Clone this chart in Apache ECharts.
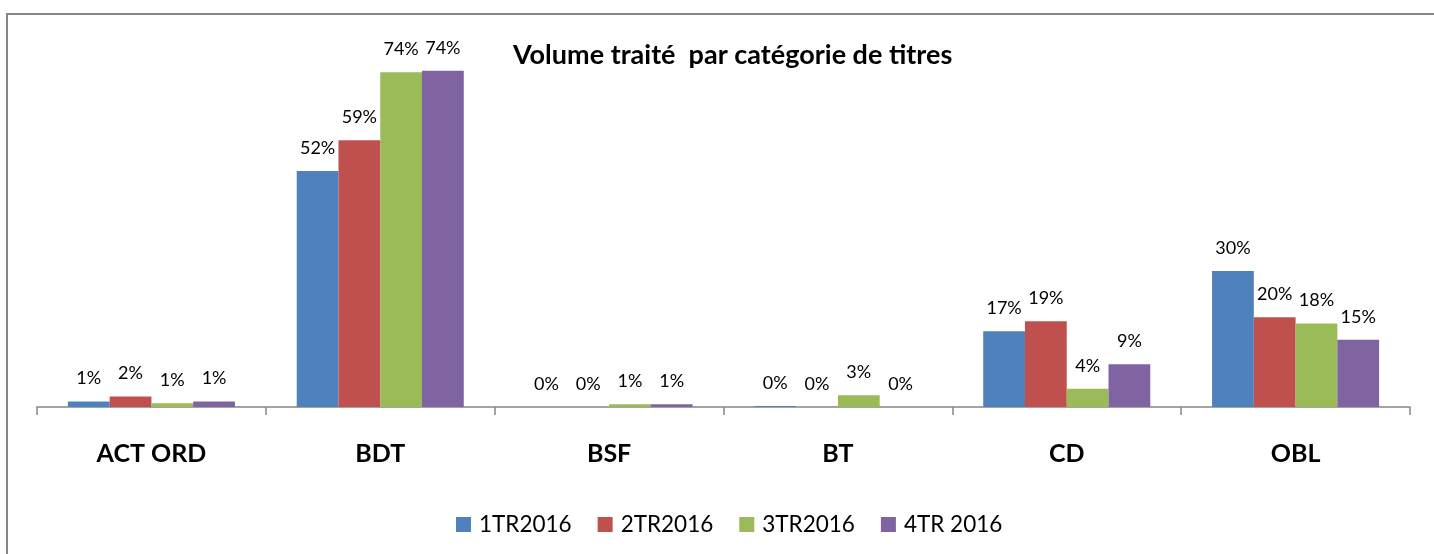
<!DOCTYPE html>
<html>
<head>
<meta charset="utf-8">
<script src="https://cdn.jsdelivr.net/npm/echarts@6/dist/echarts.min.js"></script>
<style>
html,body{margin:0;padding:0;background:#fff;}
#c{width:1434px;height:554px;}
</style>
</head>
<body>
<div id="c"></div>
<script>
const categories = ['ACT ORD', 'BDT', 'BSF', 'BT', 'CD', 'OBL'];
const seriesNames = ['1TR2016', '2TR2016', '3TR2016', '4TR 2016'];
const q1 = [1.2, 52, 0, 0.2, 16.7, 30];
const q2 = [2.3, 58.8, 0, 0, 18.9, 19.8];
const q3 = [0.8, 73.8, 0.6, 2.6, 4.0, 18.4];
const q4 = [1.2, 74.1, 0.6, 0, 9.4, 14.8];
const colors = ['#4F81BD', '#C0504D', '#9BBB59', '#8064A2'];
const titleText = 'Volume traité  par catégorie de titres';

const chart = echarts.init(document.getElementById('c'));
const allData = [q1, q2, q3, q4];
const FONT = 'Lato, "Open Sans", sans-serif';

chart.setOption({
  animation: false,
  backgroundColor: '#fff',
  graphic: [{
    type: 'rect',
    shape: {x: 7, y: 14, width: 1460, height: 600},
    style: {fill: 'none', stroke: '#868686', lineWidth: 2},
    silent: true
  }],
  title: {
    text: titleText,
    left: 508,
    top: 37,
    textStyle: {fontFamily: FONT, fontWeight: 'bold', fontSize: 27, color: '#000'}
  },
  legend: {
    data: seriesNames,
    top: 508,
    left: 451,
    itemWidth: 15,
    itemHeight: 15,
    itemGap: 26,
    icon: 'rect',
    textStyle: {fontFamily: FONT, fontSize: 22.5, color: '#000', padding: [0, 0, 0, 3]}
  },
  grid: {left: 37, right: 24, top: 44, bottom: 147, containLabel: false},
  xAxis: {
    type: 'category',
    data: categories,
    axisLine: {lineStyle: {color: '#868686', width: 1.5}},
    axisTick: {show: true, length: 8, lineStyle: {color: '#868686', width: 1.5}},
    axisLabel: {fontFamily: FONT, fontWeight: 'bold', fontSize: 25, color: '#000', margin: 34}
  },
  yAxis: {
    type: 'value',
    min: 0,
    max: 80,
    show: false,
    splitLine: {show: false}
  },
  series: seriesNames.map((name, i) => ({
    name: name,
    type: 'bar',
    data: allData[i],
    barGap: '0%',
    barCategoryGap: '27%',
    itemStyle: {color: colors[i]},
    label: {
      show: true,
      position: 'top',
      distance: 14,
      fontFamily: FONT,
      fontSize: 18,
      color: '#000',
      formatter: p => Math.round(p.value) + '%'
    }
  }))
});
</script>
</body>
</html>
